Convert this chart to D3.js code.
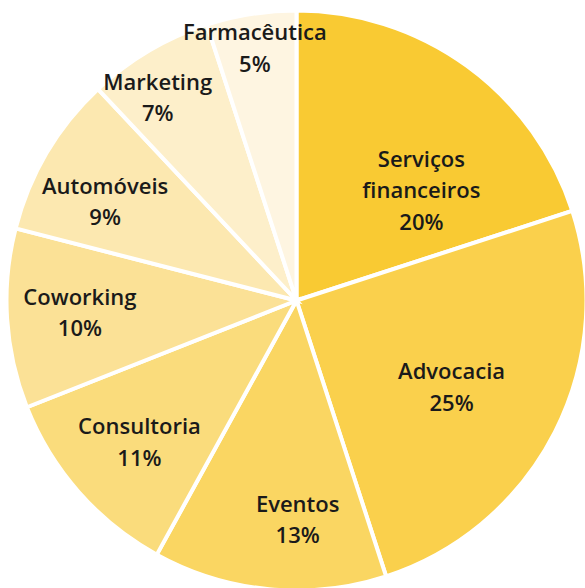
<!DOCTYPE html>
<html>
<head>
<meta charset="utf-8">
<script src="https://cdn.jsdelivr.net/npm/d3@7"></script>
<style>
  body { margin: 0; background: #fff; }
  svg text { font-family: "Open Sans", sans-serif; font-weight: 600; fill: #1a1a1a; }
</style>
</head>
<body>
<script>
// dados
var setores = ["Serviços financeiros", "Advocacia", "Eventos", "Consultoria", "Coworking", "Automóveis", "Marketing", "Farmacêutica"];
var valores = [20, 25, 13, 11, 10, 9, 7, 5];
var cores = ["#f9ca33", "#fad04c", "#fad662", "#fadc7c", "#fbe196", "#fce8b0", "#fdefca", "#fef5e1"];

var largura = 585, altura = 588;
var cx = 296.5, cy = 300.5, raio = 290;

// posição de cada rótulo: ângulo (graus, a partir do topo) e distância ao centro
var anguloRotulo = [48.8, 119.4, 179.7, 227.8, 266.5, 297.1, 325.5, 350.6];
var raioRotulo = [166, 178, 220, 212, 217, 215, 245, 255];

var svg = d3.select("body").append("svg")
    .attr("width", largura)
    .attr("height", altura);

var g = svg.append("g").attr("transform", "translate(" + cx + "," + cy + ")");

var pie = d3.pie().sort(null).value(function(d) { return d; });
var arcos = pie(valores);

var arc = d3.arc().innerRadius(0).outerRadius(raio);

g.selectAll("path")
    .data(arcos)
    .enter()
    .append("path")
    .attr("d", arc)
    .attr("fill", function(d, i) { return cores[i]; })
    .attr("stroke", "#fff")
    .attr("stroke-width", 4)
    .attr("stroke-linejoin", "miter");

var rotulos = g.selectAll("text.rotulo")
    .data(arcos)
    .enter()
    .append("text")
    .attr("class", "rotulo")
    .attr("text-anchor", "middle")
    .attr("font-size", 22)
    .attr("transform", function(d, i) {
        var a = anguloRotulo[i] * Math.PI / 180;
        var r = raioRotulo[i];
        return "translate(" + (r * Math.sin(a)) + "," + (-r * Math.cos(a)) + ")";
    });

rotulos.each(function(d, i) {
    var linhas = setores[i] == "Serviços financeiros" ? ["Serviços", "financeiros"] : [setores[i]];
    linhas.push(valores[i] + "%");
    var t = d3.select(this);
    var h = 31.5;
    var y0 = -(linhas.length - 1) * h / 2 + 7;
    linhas.forEach(function(l, k) {
        t.append("tspan").attr("x", 0).attr("y", y0 + k * h).text(l);
    });
});
</script>
</body>
</html>
